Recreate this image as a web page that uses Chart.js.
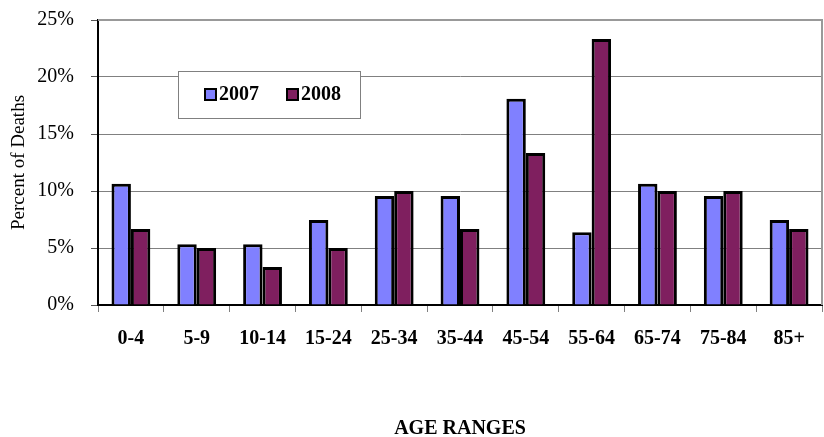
<!DOCTYPE html>
<html>
<head>
<meta charset="utf-8">
<script src="https://cdn.jsdelivr.net/npm/chart.js@4/dist/chart.umd.min.js"></script>
<style>
html,body{margin:0;padding:0;background:#fff;}
#wrap{position:relative;width:824px;height:437px;}
</style>
</head>
<body>
<div id="wrap"><canvas id="c" width="824" height="437"></canvas></div>
<script>
const categories = ["0-4","5-9","10-14","15-24","25-34","35-44","45-54","55-64","65-74","75-84","85+"];
const series2007 = [10.64, 5.32, 5.32, 7.45, 9.57, 9.57, 18.09, 6.38, 10.64, 9.57, 7.45];
const series2008 = [6.67, 5.0, 3.33, 5.0, 10.0, 6.67, 13.33, 23.33, 10.0, 10.0, 6.67];
const yTicks = [0, 5, 10, 15, 20, 25];

const serif = "'Liberation Serif', 'Times New Roman', serif";

const frame = {
  id: 'frame',
  beforeDatasetsDraw(chart) {
    const {ctx, chartArea: a} = chart;
    ctx.save();
    ctx.strokeStyle = '#999999';
    ctx.lineWidth = 2;
    ctx.beginPath();
    ctx.moveTo(a.left, a.top);
    ctx.lineTo(a.right, a.top);
    ctx.lineTo(a.right, a.bottom);
    ctx.stroke();
    ctx.restore();
  },
  afterDraw(chart) {
    const {ctx} = chart;
    const x0 = 178, y0 = 71, w = 182, h = 47;
    ctx.save();
    ctx.fillStyle = '#fff';
    ctx.fillRect(x0, y0, w, h);
    ctx.strokeStyle = '#808080';
    ctx.lineWidth = 1;
    ctx.strokeRect(x0 + 0.5, y0 + 0.5, w, h);
    const items = chart.data.datasets;
    const xs = [205, 287];
    ctx.font = "bold 20px " + serif;
    ctx.textBaseline = 'middle';
    items.forEach((ds, i) => {
      const x = xs[i];
      ctx.fillStyle = ds.backgroundColor;
      ctx.fillRect(x, 89, 11, 11);
      ctx.strokeStyle = '#000';
      ctx.lineWidth = 2;
      ctx.strokeRect(x, 89, 11, 11);
      ctx.fillStyle = '#000';
      ctx.fillText(ds.label, x + 14, 95);
    });
    ctx.restore();
  }
};

new Chart(document.getElementById('c'), {
  type: 'bar',
  data: {
    labels: categories,
    datasets: [
      {label: '2007', data: series2007, backgroundColor: '#8080FF', borderColor: '#000', borderWidth: 3},
      {label: '2008', data: series2008, backgroundColor: '#7F1F5F', borderColor: '#000', borderWidth: 3}
    ]
  },
  options: {
    responsive: false,
    animation: false,
    devicePixelRatio: 1,
    layout: {padding: {top: 20, right: 2, left: 0, bottom: 0}},
    datasets: {bar: {categoryPercentage: 0.59, barPercentage: 1.0}},
    plugins: {legend: {display: false}, tooltip: {enabled: false}},
    scales: {
      x: {
        offset: true,
        grid: {offset: true, drawOnChartArea: false, drawTicks: true, tickLength: 7, color: '#808080', tickColor: '#808080'},
        border: {color: '#000', width: 2},
        ticks: {color: '#000', font: {family: serif, size: 20, weight: 'bold'}, padding: 15, maxRotation: 0, autoSkip: false},
        title: {display: true, text: 'AGE RANGES', color: '#000', font: {family: serif, size: 20, weight: 'bold', lineHeight: 1.0}, padding: {top: 0, bottom: -2}},
        afterFit(s) { s.height = 437 - 305; s.paddingLeft = 0; s.paddingRight = 0; }
      },
      y: {
        min: 0, max: 25,
        afterBuildTicks(s) { s.ticks = yTicks.map(v => ({value: v})); },
        grid: {color: '#808080', lineWidth: 1, tickLength: 7, tickColor: '#555555'},
        border: {color: '#000', width: 2},
        ticks: {color: '#000', font: {family: serif, size: 20}, padding: 17, callback: v => v + '%'},
        title: {display: true, text: 'Percent of Deaths', color: '#000', font: {family: serif, size: 19}, padding: {top: 8, bottom: 0}},
        afterFit(s) { s.width = 98; s.paddingTop = 0; s.paddingBottom = 0; }
      }
    }
  },
  plugins: [frame]
});
</script>
</body>
</html>
